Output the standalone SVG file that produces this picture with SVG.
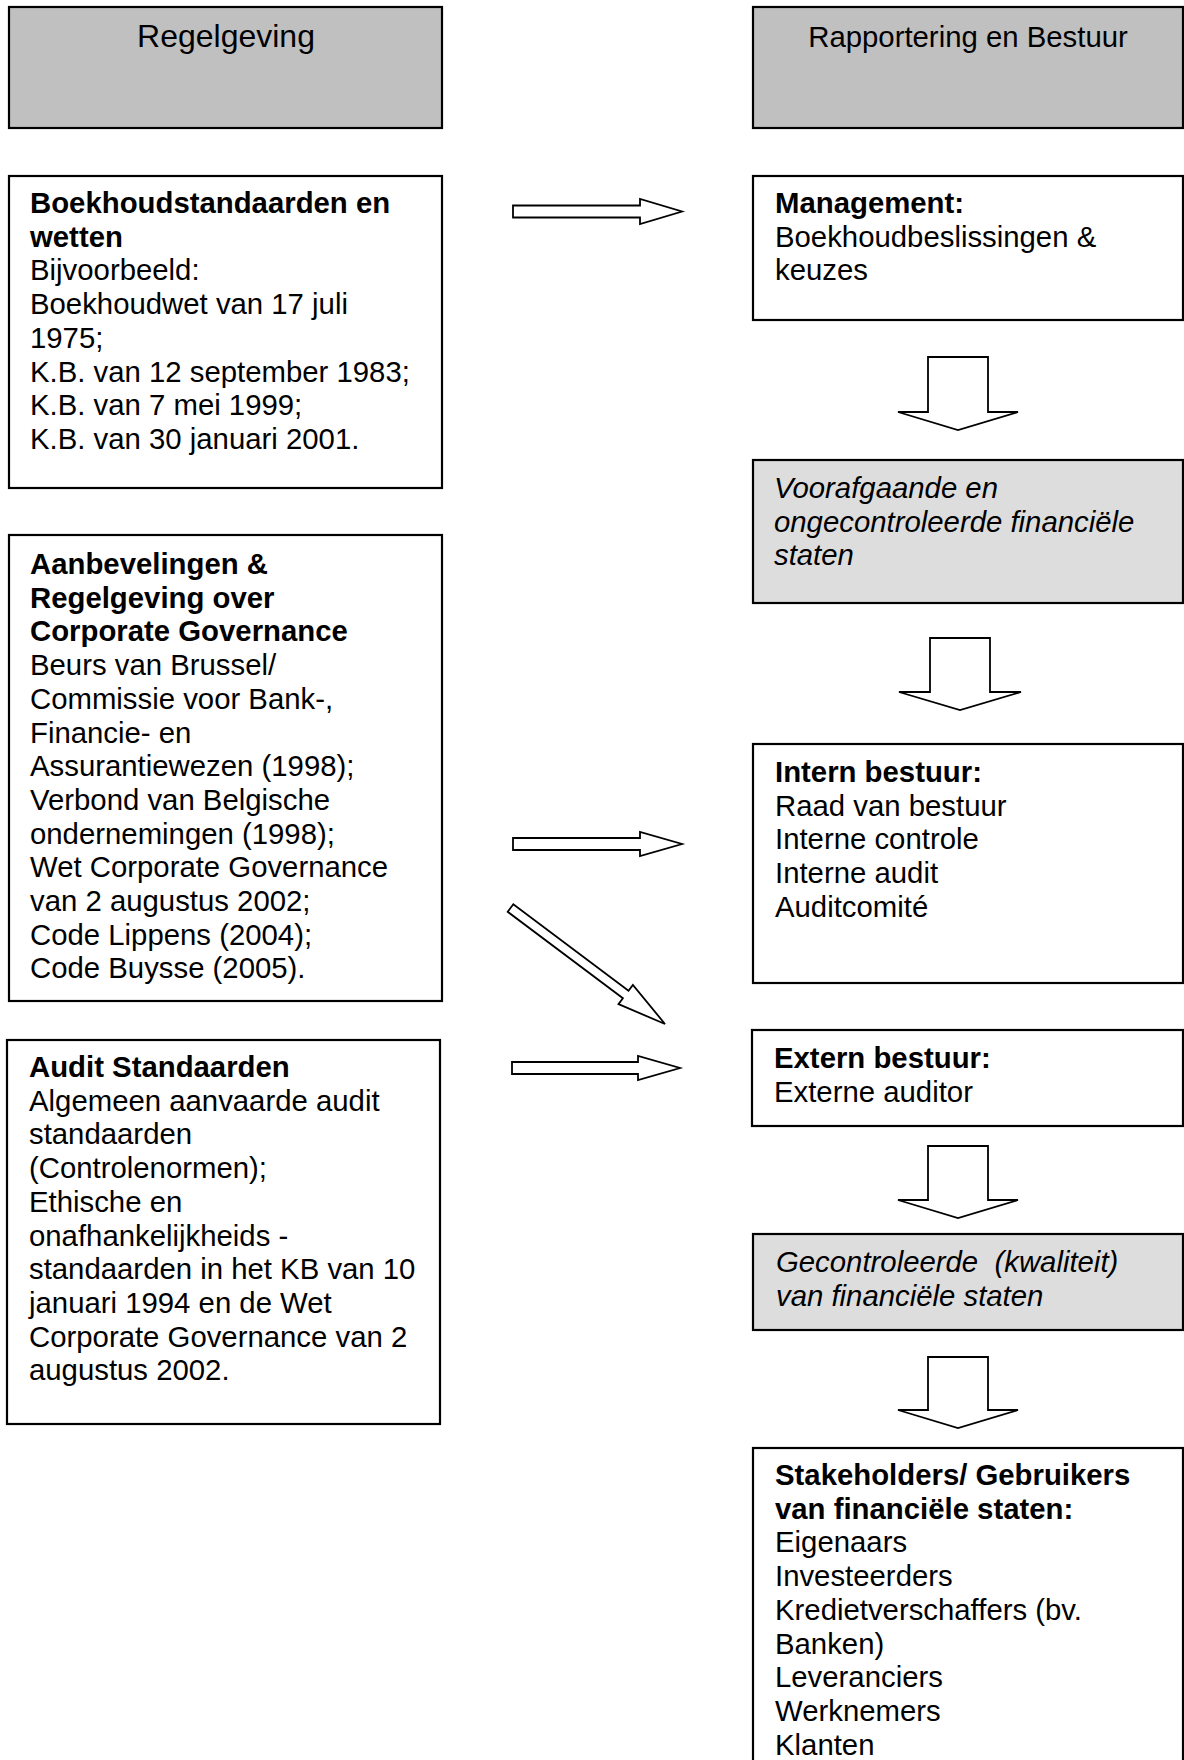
<svg xmlns="http://www.w3.org/2000/svg" width="1184" height="1760" viewBox="0 0 1184 1760">
<style>
.box{fill:#ffffff;stroke:#000;stroke-width:2.2}
.hdr{fill:#c0c0c0;stroke:#000;stroke-width:2.2}
.lt{fill:#dddddd;stroke:#000;stroke-width:2.2}
.arr{fill:#ffffff;stroke:#000;stroke-width:1.8;stroke-linejoin:miter}
text{font-family:"Liberation Sans",Arial,sans-serif;font-size:29.33px;fill:#000}
.b{font-weight:bold}
.i{font-style:italic}
.h1{font-size:32px}
</style>
<rect width="1184" height="1760" fill="#fff"/>

<g id="connectors">
  <polygon class="arr" points="513,205.5 640,205.5 640,199 682,211.5 640,224 640,217.5 513,217.5"/>
  <polygon class="arr" points="513,838 640,838 640,832 682,844 640,856 640,850 513,850"/>
  <polygon class="arr" points="512,1062 638,1062 638,1056 680,1068 638,1080 638,1074 512,1074"/>
  <polygon class="arr" points="507.7,911.8 513.3,904.2 628.5,990.7 632.9,984.9 665,1024 618.5,1004.1 622.9,998.3"/>
  <polygon class="arr" points="928,357 988,357 988,412 1018,412 958,430 898,412 928,412"/>
  <polygon class="arr" points="930,638 990,638 990,692 1021,692 960,710 899,692 930,692"/>
  <polygon class="arr" points="928,1146 988,1146 988,1200 1018,1200 958,1218 898,1200 928,1200"/>
  <polygon class="arr" points="928,1357 988,1357 988,1410 1018,1410 958,1428 898,1410 928,1410"/>
</g>

<g id="hdr-regelgeving">
  <rect class="hdr" x="9" y="7" width="433" height="121"/>
  <text class="h1" x="226" y="47" text-anchor="middle">Regelgeving</text>
</g>

<g id="hdr-rapportering">
  <rect class="hdr" x="753" y="7" width="430" height="121"/>
  <text x="968" y="47" text-anchor="middle">Rapportering en Bestuur</text>
</g>

<g id="boekhoudstandaarden">
  <rect class="box" x="9" y="176" width="433" height="312"/>
  <text x="30" y="213"><tspan class="b">Boekhoudstandaarden en</tspan><tspan class="b" x="30" dy="33.7">wetten</tspan><tspan x="30" dy="33.7">Bijvoorbeeld:</tspan><tspan x="30" dy="33.7">Boekhoudwet van 17 juli</tspan><tspan x="30" dy="33.7">1975;</tspan><tspan x="30" dy="33.7">K.B. van 12 september 1983;</tspan><tspan x="30" dy="33.7">K.B. van 7 mei 1999;</tspan><tspan x="30" dy="33.7">K.B. van 30 januari 2001.</tspan></text>
</g>

<g id="aanbevelingen">
  <rect class="box" x="9" y="535" width="433" height="466"/>
  <text x="30" y="574"><tspan class="b">Aanbevelingen &amp;</tspan><tspan class="b" x="30" dy="33.7">Regelgeving over</tspan><tspan class="b" x="30" dy="33.7">Corporate Governance</tspan><tspan x="30" dy="33.7">Beurs van Brussel/</tspan><tspan x="30" dy="33.7">Commissie voor Bank-,</tspan><tspan x="30" dy="33.7">Financie- en</tspan><tspan x="30" dy="33.7">Assurantiewezen (1998);</tspan><tspan x="30" dy="33.7">Verbond van Belgische</tspan><tspan x="30" dy="33.7">ondernemingen (1998);</tspan><tspan x="30" dy="33.7">Wet Corporate Governance</tspan><tspan x="30" dy="33.7">van 2 augustus 2002;</tspan><tspan x="30" dy="33.7">Code Lippens (2004);</tspan><tspan x="30" dy="33.7">Code Buysse (2005).</tspan></text>
</g>

<g id="audit-standaarden">
  <rect class="box" x="7" y="1040" width="433" height="384"/>
  <text x="29" y="1077"><tspan class="b">Audit Standaarden</tspan><tspan x="29" dy="33.7">Algemeen aanvaarde audit</tspan><tspan x="29" dy="33.7">standaarden</tspan><tspan x="29" dy="33.7">(Controlenormen);</tspan><tspan x="29" dy="33.7">Ethische en</tspan><tspan x="29" dy="33.7">onafhankelijkheids -</tspan><tspan x="29" dy="33.7">standaarden in het KB van 10</tspan><tspan x="29" dy="33.7">januari 1994 en de Wet</tspan><tspan x="29" dy="33.7">Corporate Governance van 2</tspan><tspan x="29" dy="33.7">augustus 2002.</tspan></text>
</g>

<g id="management">
  <rect class="box" x="753" y="176" width="430" height="144"/>
  <text x="775" y="213"><tspan class="b">Management:</tspan><tspan x="775" dy="33.7">Boekhoudbeslissingen &amp;</tspan><tspan x="775" dy="33.7">keuzes</tspan></text>
</g>

<g id="voorafgaande">
  <rect class="lt" x="753" y="460" width="430" height="143"/>
  <text class="i" x="774" y="498"><tspan>Voorafgaande en</tspan><tspan x="774" dy="33.7">ongecontroleerde financiële</tspan><tspan x="774" dy="33.7">staten</tspan></text>
</g>

<g id="intern-bestuur">
  <rect class="box" x="753" y="744" width="430" height="239"/>
  <text x="775" y="782"><tspan class="b">Intern bestuur:</tspan><tspan x="775" dy="33.7">Raad van bestuur</tspan><tspan x="775" dy="33.7">Interne controle</tspan><tspan x="775" dy="33.7">Interne audit</tspan><tspan x="775" dy="33.7">Auditcomité</tspan></text>
</g>

<g id="extern-bestuur">
  <rect class="box" x="752" y="1030" width="431" height="96"/>
  <text x="774" y="1068"><tspan class="b">Extern bestuur:</tspan><tspan x="774" dy="33.7">Externe auditor</tspan></text>
</g>

<g id="gecontroleerde">
  <rect class="lt" x="753" y="1234" width="430" height="96"/>
  <text class="i" x="776" y="1272" xml:space="preserve"><tspan>Gecontroleerde  (kwaliteit)</tspan><tspan x="776" dy="33.7">van financiële staten</tspan></text>
</g>

<g id="stakeholders">
  <rect class="box" x="753" y="1448" width="430" height="330"/>
  <text x="775" y="1485"><tspan class="b">Stakeholders/ Gebruikers</tspan><tspan class="b" x="775" dy="33.7">van financiële staten:</tspan><tspan x="775" dy="33.7">Eigenaars</tspan><tspan x="775" dy="33.7">Investeerders</tspan><tspan x="775" dy="33.7">Kredietverschaffers (bv.</tspan><tspan x="775" dy="33.7">Banken)</tspan><tspan x="775" dy="33.7">Leveranciers</tspan><tspan x="775" dy="33.7">Werknemers</tspan><tspan x="775" dy="33.7">Klanten</tspan></text>
</g>
</svg>
